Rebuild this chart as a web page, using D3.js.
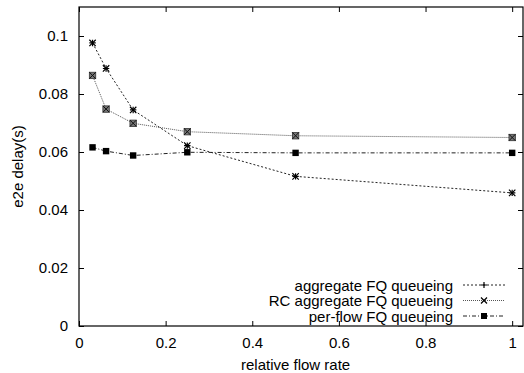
<!DOCTYPE html>
<html>
<head>
<meta charset="utf-8">
<script src="https://cdn.jsdelivr.net/npm/d3@7"></script>
<style>
  html, body { margin: 0; padding: 0; background: #fff; }
  svg { display: block; }
</style>
</head>
<body>
<div id="chart"></div>
<script>
// ── Data ────────────────────────────────────────────────────
const rates = [0.03125, 0.0625, 0.125, 0.25, 0.5, 1];
const aggregateFQ   = [0.0976, 0.0888, 0.0745, 0.0622, 0.0516, 0.0459];
const rcAggregateFQ = [0.0864, 0.0748, 0.0699, 0.0670, 0.0656, 0.0650];
const perFlowFQ     = [0.0616, 0.0603, 0.0588, 0.0599, 0.0597, 0.0597];
const seriesNames = ['aggregate FQ queueing', 'RC aggregate FQ queueing', 'per-flow FQ queueing'];
const xTicks = [0, 0.2, 0.4, 0.6, 0.8, 1];
const yTicks = [0, 0.02, 0.04, 0.06, 0.08, 0.1];

const width = 524, height = 373;
const margin = { top: 7, right: 1, bottom: 47, left: 79 };
const innerW = width - margin.left - margin.right;
const innerH = height - margin.top - margin.bottom;
const font = '"Liberation Sans", Arial, sans-serif';

const svg = d3.select('#chart')
  .append('svg')
  .attr('width', width)
  .attr('height', height);

const g = svg.append('g')
  .attr('transform', `translate(${margin.left},${margin.top})`);

// ── Scales ──────────────────────────────────────────────────
const x = d3.scaleLinear().domain([0, 1.025]).range([0, innerW]);
const y = d3.scaleLinear().domain([0, 0.11]).range([innerH, 0]);

// ── Axes (ticks inward, mirrored) ───────────────────────────
const fmt = d => d === 0 ? '0' : String(+d.toFixed(2));

g.append('g')
  .attr('transform', `translate(0,${innerH})`)
  .call(d3.axisBottom(x).tickValues(xTicks).tickSize(-5).tickPadding(11).tickFormat(fmt))
  .call(a => a.select('.domain').remove());

g.append('g')
  .call(d3.axisTop(x).tickValues(xTicks).tickSize(-5).tickFormat(''))
  .call(a => a.select('.domain').remove());

g.append('g')
  .call(d3.axisLeft(y).tickValues(yTicks).tickSize(-5).tickPadding(11).tickFormat(fmt))
  .call(a => a.select('.domain').remove());

g.append('g')
  .attr('transform', `translate(${innerW},0)`)
  .call(d3.axisRight(y).tickValues(yTicks).tickSize(-5).tickFormat(''))
  .call(a => a.select('.domain').remove());

g.selectAll('.tick line').attr('stroke', '#000').attr('stroke-width', 1);
g.selectAll('.tick text')
  .attr('fill', '#000')
  .attr('font-size', '15px')
  .attr('font-family', font);

// frame
g.append('rect')
  .attr('x', 0).attr('y', 0)
  .attr('width', innerW).attr('height', innerH)
  .attr('fill', 'none')
  .attr('stroke', '#000')
  .attr('stroke-width', 1.2);

// ── Axis labels ─────────────────────────────────────────────
svg.append('text')
  .attr('x', margin.left + x(0.5))
  .attr('y', 370)
  .attr('text-anchor', 'middle')
  .attr('font-size', '15px')
  .attr('font-family', font)
  .text('relative flow rate');

svg.append('text')
  .attr('transform', `translate(23,${margin.top + innerH / 2}) rotate(-90)`)
  .attr('text-anchor', 'middle')
  .attr('font-size', '15px')
  .attr('font-family', font)
  .text('e2e delay(s)');

// ── Series ──────────────────────────────────────────────────
const styles = [
  { values: aggregateFQ,   stroke: '#222', dash: '2,2',     width: 1, marker: 'star' },
  { values: rcAggregateFQ, stroke: '#555', dash: '1,1',     width: 1, marker: 'xsquare' },
  { values: perFlowFQ,     stroke: '#222', dash: '4,2,1,2', width: 1, marker: 'square' }
];

const line = d3.line()
  .x(d => x(d[0]))
  .y(d => y(d[1]));

function drawMarker(sel, type, cx, cy, legend) {
  const s = legend ? 3 : 3.2;
  if (type === 'plus' || type === 'star') {
    sel.append('path')
      .attr('d', `M${cx - s},${cy}H${cx + s}M${cx},${cy - s}V${cy + s}`)
      .attr('stroke', '#000').attr('stroke-width', 1.2);
  }
  if (type === 'star' || type === 'x') {
    sel.append('path')
      .attr('d', `M${cx - s},${cy - s}L${cx + s},${cy + s}M${cx - s},${cy + s}L${cx + s},${cy - s}`)
      .attr('stroke', '#000').attr('stroke-width', 1.2);
  }
  if (type === 'xsquare') {
    sel.append('rect')
      .attr('x', cx - s).attr('y', cy - s)
      .attr('width', 2 * s).attr('height', 2 * s)
      .attr('fill', '#777').attr('stroke', '#333').attr('stroke-width', 0.8);
    sel.append('path')
      .attr('d', `M${cx - s},${cy - s}L${cx + s},${cy + s}M${cx - s},${cy + s}L${cx + s},${cy - s}`)
      .attr('stroke', '#111').attr('stroke-width', 1);
  }
  if (type === 'square') {
    sel.append('rect')
      .attr('x', cx - s).attr('y', cy - s)
      .attr('width', 2 * s).attr('height', 2 * s)
      .attr('fill', '#000');
  }
}

styles.forEach(st => {
  const pts = rates.map((r, i) => [r, st.values[i]]);
  g.append('path')
    .datum(pts)
    .attr('fill', 'none')
    .attr('stroke', st.stroke)
    .attr('stroke-width', st.width)
    .attr('stroke-dasharray', st.dash)
    .attr('d', line);
  const mg = g.append('g');
  pts.forEach(p => drawMarker(mg, st.marker, x(p[0]), y(p[1]), false));
});

// ── Legend ──────────────────────────────────────────────────
const legendMarkers = ['plus', 'x', 'square'];
const legend = svg.append('g');
seriesNames.forEach((name, i) => {
  const ly = 285 + i * 15.5;
  legend.append('text')
    .attr('x', 453).attr('y', ly + 5.5)
    .attr('text-anchor', 'end')
    .attr('font-size', '15px')
    .attr('font-family', font)
    .text(name);
  legend.append('line')
    .attr('x1', 463).attr('x2', 505)
    .attr('y1', ly).attr('y2', ly)
    .attr('stroke', styles[i].stroke)
    .attr('stroke-width', 1)
    .attr('stroke-dasharray', styles[i].dash);
  drawMarker(legend, legendMarkers[i], 484, ly, true);
});
</script>
</body>
</html>
